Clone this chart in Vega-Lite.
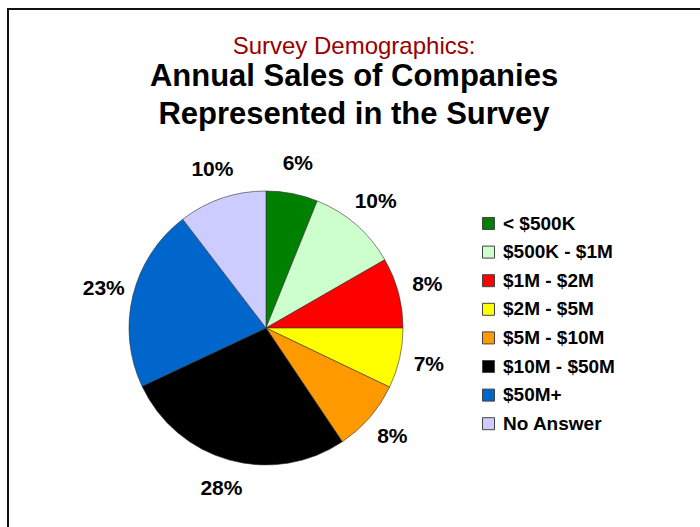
{
  "$schema": "https://vega.github.io/schema/vega-lite/v6.json",
  "width": 692,
  "height": 518,
  "autosize": {"type": "none"},
  "padding": {"left": 8, "top": 9, "right": 0, "bottom": 0},
  "background": "white",
  "view": {"stroke": "#111111", "strokeWidth": 2, "strokeDash": [692, 1210, 518, 10], "fill": "white"},
  "config": {
    "view": {"stroke": "#111111", "strokeWidth": 2, "strokeDash": [692, 1210, 518, 10], "fill": "white"}
  },
  "title": {
    "text": "Survey Demographics:",
    "subtitle": ["Annual Sales of Companies", "Represented in the Survey"],
    "anchor": "middle",
    "frame": "group",
    "offset": -121,
    "font": "Liberation Sans",
    "fontSize": 24,
    "fontWeight": "normal",
    "color": "#990000",
    "subtitleFont": "Liberation Sans",
    "subtitleFontSize": 31,
    "subtitleFontWeight": "bold",
    "subtitleColor": "black",
    "subtitleLineHeight": 38,
    "subtitlePadding": 3
  },
  "data": {
    "values": [
      {"category": "< $500K", "value": 6.1, "label": "6%", "order": 1},
      {"category": "$500K - $1M", "value": 10.6, "label": "10%", "order": 2},
      {"category": "$1M - $2M", "value": 8.3, "label": "8%", "order": 3},
      {"category": "$2M - $5M", "value": 7.1, "label": "7%", "order": 4},
      {"category": "$5M - $10M", "value": 8.5, "label": "8%", "order": 5},
      {"category": "$10M - $50M", "value": 27.4, "label": "28%", "order": 6},
      {"category": "$50M+", "value": 21.6, "label": "23%", "order": 7},
      {"category": "No Answer", "value": 10.4, "label": "10%", "order": 8}
    ]
  },
  "encoding": {
    "theta": {"field": "value", "type": "quantitative", "stack": true},
    "order": {"field": "order", "type": "quantitative"},
    "color": {
      "field": "category",
      "type": "nominal",
      "sort": null,
      "scale": {
        "domain": ["< $500K", "$500K - $1M", "$1M - $2M", "$2M - $5M", "$5M - $10M", "$10M - $50M", "$50M+", "No Answer"],
        "range": ["#008000", "#ccffcc", "#ff0000", "#ffff00", "#ff9900", "#000000", "#0066cc", "#ccccff"]
      },
      "legend": {
        "orient": "none",
        "legendX": 471,
        "legendY": 205,
        "title": null,
        "padding": 0,
        "symbolType": "square",
        "symbolSize": 144,
        "symbolStrokeColor": "#444444",
        "symbolStrokeWidth": 1,
        "labelFont": "Liberation Sans",
        "labelFontSize": 19,
        "labelFontWeight": "bold",
        "labelColor": "black",
        "labelOffset": 5,
        "labelLimit": 300,
        "rowPadding": 8.6
      }
    }
  },
  "layer": [
    {
      "mark": {"type": "arc", "x": 258, "y": 319, "outerRadius": 137, "stroke": "#333333", "strokeWidth": 0.6}
    },
    {
      "mark": {"type": "text", "x": 258, "y": 319, "radius": 167, "fontSize": 21, "fontWeight": "bold", "font": "Liberation Sans"},
      "encoding": {
        "text": {"field": "label", "type": "nominal"},
        "color": {"value": "black"}
      }
    }
  ]
}
